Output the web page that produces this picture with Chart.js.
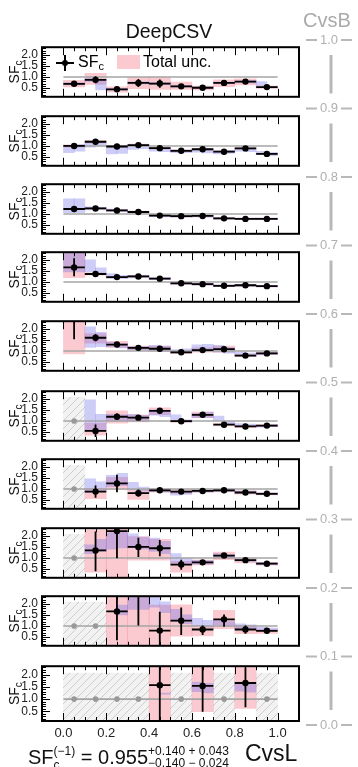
<!DOCTYPE html>
<html><head><meta charset="utf-8">
<script src="https://cdn.jsdelivr.net/npm/chart.js@4.4.1/dist/chart.umd.min.js"></script>
<style>
html,body{margin:0;padding:0;background:#fff;}
body{width:358px;height:767px;overflow:hidden;position:relative;font-family:'Liberation Sans',Arial,sans-serif;}
canvas{position:absolute;}
.t{position:absolute;white-space:nowrap;}
.sc{display:inline-block;position:relative;font-size:12px;line-height:12px;}
.sp{position:relative;top:-9px;}
.sb{position:absolute;left:0;top:3px;}
</style></head><body>
<script>
// ---------------- data ----------------
const CVSL_EDGES = [0.0,0.1,0.2,0.3,0.4,0.5,0.6,0.7,0.8,0.9,1.0];
const SUB_EDGES = [0,0.05,0.1,0.15,0.2,0.25,0.3,0.35,0.4,0.45,0.5,0.55,0.6,0.65,0.7,0.75,0.8,0.85,0.9,0.95,1.0];
const CVSB_TICKS = [0.0,0.1,0.2,0.3,0.4,0.5,0.6,0.7,0.8,0.9,1.0];
const X_LABELS = [0.0,0.2,0.4,0.6,0.8,1.0];
const X_MINOR = [0,0.05,0.1,0.15,0.2,0.25,0.3,0.35,0.4,0.45,0.5,0.55,0.6,0.65,0.7,0.75,0.8,0.85,0.9,0.95,1.0];
const Y_LABELS = [0.5,1.0,1.5,2.0];
const Y_MINOR = [0.2,0.3,0.4,0.5,0.6,0.7,0.8,0.9,1.0,1.1,1.2,1.3,1.4,1.5,1.6,1.7,1.8,1.9,2.0,2.1,2.2,2.3];
const Y_MIN = 0.1, Y_MAX = 2.35;
const REF_VALUE = 1.0;
const HATCH_TOP = 2.07;

// panels from CvsB 0.9-1.0 (top) down to 0.0-0.1 (bottom); null = empty bin
const SF = [
 [0.69,0.87,0.44,0.73,0.70,0.575,0.51,0.73,0.79,0.54],
 [1.00,1.19,0.975,1.04,0.90,0.78,0.85,0.74,0.89,0.64],
 [1.225,1.25,1.16,1.09,0.925,0.90,0.91,0.80,0.775,0.775],
 [1.66,1.36,1.22,1.25,1.15,0.94,0.90,0.825,0.85,0.81],
 [2.55,1.60,1.29,1.14,1.10,0.94,1.04,1.08,0.79,0.89],
 [null,0.55,1.19,1.15,1.46,0.99,1.28,0.83,0.75,0.79],
 [null,0.88,1.25,0.81,0.94,0.88,0.91,0.94,0.84,0.78],
 [null,1.34,2.22,1.50,1.44,0.70,0.80,1.11,0.90,0.74],
 [null,null,1.66,2.55,0.79,1.24,0.84,1.30,0.84,0.78],
 [null,null,null,null,1.57,null,1.54,null,1.66,null]
];
const ERR_UP = [
 [0.10,0.16,0.06,0.18,0.19,0.08,0.05,0.08,0.06,0.04],
 [0.04,0.04,0.04,0.04,0.03,0.03,0.03,0.03,0.03,0.03],
 [0.03,0.03,0.03,0.03,0.03,0.03,0.03,0.03,0.03,0.03],
 [0.41,0.04,0.03,0.03,0.03,0.03,0.03,0.03,0.03,0.03],
 [0.50,0.16,0.05,0.04,0.04,0.03,0.04,0.04,0.03,0.03],
 [null,0.29,0.15,0.05,0.12,0.04,0.06,0.04,0.04,0.04],
 [null,0.28,0.40,0.16,0.04,0.04,0.04,0.03,0.04,0.03],
 [null,0.86,0.50,0.42,0.37,0.22,0.07,0.07,0.05,0.03],
 [null,null,1.00,0.50,0.86,0.60,0.18,0.22,0.18,0.06],
 [null,null,null,null,1.00,null,0.90,null,0.64,null]
];
const ERR_DN = [
 [0.10,0.16,0.06,0.18,0.19,0.08,0.05,0.08,0.06,0.04],
 [0.04,0.04,0.04,0.04,0.03,0.03,0.03,0.03,0.03,0.03],
 [0.03,0.03,0.03,0.03,0.03,0.03,0.03,0.03,0.03,0.03],
 [0.40,0.04,0.03,0.03,0.03,0.03,0.03,0.03,0.03,0.03],
 [1.02,0.16,0.05,0.04,0.04,0.03,0.04,0.04,0.03,0.03],
 [null,0.28,0.13,0.05,0.12,0.04,0.06,0.04,0.04,0.04],
 [null,0.28,0.40,0.16,0.04,0.04,0.04,0.03,0.04,0.03],
 [null,0.94,1.23,0.46,0.36,0.24,0.07,0.07,0.05,0.03],
 [null,null,1.31,1.53,0.90,0.65,0.25,0.34,0.19,0.06],
 [null,null,null,null,1.70,null,1.06,null,1.00,null]
];
const TOT_LO = [
 [0.55,0.66,0.31,0.47,0.44,0.44,0.41,0.56,0.64,0.48],
 [0.95,1.14,0.93,0.99,0.86,0.74,0.81,0.70,0.85,0.60],
 [1.19,1.21,1.12,1.05,0.89,0.86,0.87,0.76,0.74,0.74],
 [1.20,1.31,1.18,1.21,1.11,0.90,0.86,0.79,0.81,0.77],
 [0.87,1.35,1.16,1.06,1.00,0.88,0.94,0.94,0.74,0.83],
 [null,0.36,0.90,0.96,1.28,0.93,1.15,0.78,0.70,0.74],
 [null,0.56,0.97,0.53,0.86,0.80,0.85,0.87,0.76,0.73],
 [null,0.35,0.00,0.90,0.90,0.36,0.68,0.92,0.78,0.67],
 [null,null,0.00,0.00,0.00,0.54,0.55,0.88,0.65,0.66],
 [null,null,null,null,0.00,null,0.48,null,0.62,null]
];
const TOT_HI = [
 [0.85,1.16,0.55,0.99,0.99,0.77,0.59,0.87,0.91,0.60],
 [1.05,1.24,1.02,1.09,0.94,0.82,0.89,0.78,0.93,0.68],
 [1.26,1.29,1.20,1.13,0.96,0.94,0.95,0.84,0.81,0.81],
 [2.40,1.41,1.26,1.29,1.19,0.98,0.94,0.87,0.89,0.85],
 [2.60,1.79,1.44,1.22,1.22,1.00,1.14,1.22,0.85,0.95],
 [null,0.90,1.46,1.28,1.59,1.03,1.40,0.88,0.80,0.84],
 [null,1.02,1.53,0.97,1.03,0.97,0.98,1.00,0.92,0.84],
 [null,2.28,2.60,1.97,1.84,0.85,0.90,1.27,0.99,0.80],
 [null,null,2.60,2.60,1.95,1.96,1.02,1.71,1.02,0.86],
 [null,null,null,null,2.60,null,2.60,null,2.60,null]
];
const BAND_LO = [
 [0.64,0.64,0.80,0.41,0.40,0.40,0.68,0.68,0.65,0.65,0.54,0.54,0.48,0.48,0.69,0.69,0.75,0.72,0.58,0.50],
 [0.70,0.76,0.95,1.00,0.64,0.66,0.84,0.88,0.76,0.74,0.70,0.70,0.72,0.68,0.64,0.66,0.76,0.74,0.60,0.56],
 [1.06,1.06,1.18,1.20,1.12,1.10,1.05,1.03,0.88,0.87,0.86,0.86,0.87,0.86,0.76,0.76,0.74,0.74,0.74,0.74],
 [1.45,1.45,1.45,1.33,1.16,1.16,1.18,1.20,1.10,1.10,0.90,0.90,0.86,0.86,0.79,0.79,0.81,0.81,0.77,0.77],
 [null,null,1.16,1.20,1.18,1.14,1.04,1.04,1.00,0.98,0.90,0.92,0.98,1.00,0.95,0.90,0.80,0.78,0.82,0.84],
 [null,null,0.55,0.55,1.00,1.00,1.00,1.00,1.26,1.20,1.05,0.95,1.15,1.15,1.00,0.85,0.78,0.76,0.72,0.74],
 [null,null,0.84,0.90,1.10,1.15,0.96,0.90,0.88,0.86,0.72,0.75,0.86,0.86,0.88,0.88,0.80,0.80,0.74,0.74],
 [null,null,1.20,1.30,1.40,1.45,1.45,1.40,1.30,1.20,0.75,0.70,0.72,0.72,1.02,1.00,0.85,0.82,0.70,0.70],
 [null,null,null,null,null,1.50,1.75,1.75,1.85,1.60,1.20,1.10,1.00,0.95,1.05,1.00,0.86,0.85,0.80,0.78],
 [null,null,null,null,null,null,null,null,null,1.20,null,null,1.30,1.25,null,null,1.32,1.28,null,null]
];
const BAND_HI = [
 [0.74,0.74,0.95,0.90,0.48,0.48,0.78,0.78,0.75,0.75,0.62,0.62,0.55,0.55,0.77,0.77,0.83,0.85,0.79,0.58],
 [1.03,1.06,1.22,1.20,0.95,0.98,1.05,1.06,0.93,0.91,0.84,0.82,0.87,0.84,0.78,0.80,0.90,0.90,0.76,0.70],
 [1.69,1.69,1.32,1.30,1.22,1.20,1.13,1.12,0.97,0.95,0.94,0.93,0.95,0.94,0.84,0.83,0.81,0.81,0.81,0.81],
 [2.45,2.30,2.00,1.64,1.38,1.30,1.30,1.29,1.20,1.20,0.98,0.98,0.94,0.94,0.87,0.87,0.89,0.89,0.85,0.85],
 [null,null,2.10,1.85,1.40,1.34,1.20,1.20,1.26,1.22,1.06,1.10,1.28,1.30,1.25,1.15,0.96,0.90,0.92,0.95],
 [null,null,1.96,1.30,1.30,1.28,1.30,1.25,1.50,1.45,1.28,1.05,1.35,1.40,1.22,1.00,0.88,0.86,0.80,0.84],
 [null,null,1.46,1.32,1.62,1.71,1.30,1.08,1.00,0.98,0.92,0.90,0.96,0.96,0.98,0.98,0.90,0.90,0.82,0.82],
 [null,null,1.60,1.85,2.15,2.20,2.10,1.95,1.90,1.75,1.20,1.00,0.90,0.88,1.20,1.15,0.95,0.93,0.80,0.78],
 [null,null,null,null,null,1.95,2.40,2.40,2.40,2.10,1.75,1.50,1.35,1.25,1.25,1.20,1.10,1.05,0.95,0.90],
 [null,null,null,null,null,null,null,null,null,1.25,null,null,1.70,1.65,null,null,1.70,1.62,null,null]
];

// ---------------- layout / style ----------------
const FONT = "'Liberation Sans', Arial, Helvetica, sans-serif";
const PANEL_TOP = [42,111,179,247,316,386,454,523,591,661];
const PANEL_H = 60, PAD = 6, AREA_LEFT = 42, AREA_RIGHT = 299, W = 358, XLAB_H = 24;
const PINK = 'rgba(240,80,100,0.30)';
const BLUE = 'rgba(100,100,230,0.32)';
const GREY = '#a4a4a4';

function makeHatch() {
  const c = document.createElement('canvas'); c.width = 8; c.height = 8;
  const g = c.getContext('2d');
  g.fillStyle = '#f2f2f2'; g.fillRect(0,0,8,8);
  g.strokeStyle = '#cdcdcd'; g.lineWidth = 1;
  g.beginPath();
  g.moveTo(0,8); g.lineTo(8,0);
  g.moveTo(-1,1); g.lineTo(1,-1);
  g.moveTo(7,9); g.lineTo(9,7);
  g.stroke();
  return g.createPattern(c,'repeat');
}
const HATCH = makeHatch();

function seg(ctx,x1,y1,x2,y2){ctx.beginPath();ctx.moveTo(x1,y1);ctx.lineTo(x2,y2);ctx.stroke();}

const decoPlugin = {
  id: 'deco',
  afterDatasetsDraw(chart) {
    const p = chart.options.plugins.deco.panel;
    const {ctx, chartArea: a} = chart;
    const x = chart.scales.x, y = chart.scales.y;
    ctx.save();
    ctx.strokeStyle = '#000'; ctx.lineWidth = 1;
    X_MINOR.forEach(v => {
      const px = Math.round(x.getPixelForValue(v)) + 0.5;
      const L = X_LABELS.some(m => Math.abs(m - v) < 1e-9) ? 8 : 4;
      seg(ctx, px, a.bottom, px, a.bottom - L);
      seg(ctx, px, a.top, px, a.top + L);
    });
    Y_MINOR.forEach(v => {
      const py = Math.round(y.getPixelForValue(v)) + 0.5;
      const L = Y_LABELS.some(m => Math.abs(m - v) < 1e-9) ? 8 : 4;
      seg(ctx, a.left, py, a.left + L, py);
    });
    ctx.lineWidth = 2;
    ctx.strokeRect(a.left, a.top, a.right - a.left, a.bottom - a.top);
    // x tick labels on the bottom panel
    if (p === PANEL_TOP.length - 1) {
      ctx.fillStyle = '#222';
      ctx.font = '13px ' + FONT;
      ctx.textAlign = 'center'; ctx.textBaseline = 'middle';
      X_LABELS.forEach(v => ctx.fillText(v.toFixed(1), x.getPixelForValue(v), a.bottom + 12));
      ctx.textAlign = 'left'; ctx.textBaseline = 'alphabetic';
    }
    // y title SF_c
    ctx.save();
    ctx.translate(19, (a.top + a.bottom) / 2);
    ctx.rotate(-Math.PI / 2);
    ctx.fillStyle = '#111';
    ctx.font = '14px ' + FONT;
    const w1 = ctx.measureText('SF').width;
    ctx.font = '10px ' + FONT;
    const w2 = ctx.measureText('c').width;
    const x0 = -(w1 + w2) / 2;
    ctx.font = '14px ' + FONT; ctx.fillText('SF', x0, 0);
    ctx.font = '10px ' + FONT; ctx.fillText('c', x0 + w1, 2.5);
    ctx.restore();
    if (p === 0) {
      const top = PANEL_TOP[0] - PAD;
      ctx.strokeStyle = '#000'; ctx.lineWidth = 2;
      seg(ctx, 56, 63 - top, 74, 63 - top);
      seg(ctx, 65, 55 - top, 65, 71 - top);
      ctx.fillStyle = '#000';
      ctx.beginPath(); ctx.arc(65, 63 - top, 3, 0, Math.PI * 2); ctx.fill();
      ctx.font = '16px ' + FONT;
      ctx.fillText('SF', 78, 67 - top);
      const ws = ctx.measureText('SF').width;
      ctx.font = '11px ' + FONT;
      ctx.fillText('c', 78 + ws, 70 - top);
      ctx.fillStyle = PINK;
      ctx.fillRect(117, 55 - top, 23, 14);
      ctx.fillStyle = '#000';
      ctx.font = '16px ' + FONT;
      ctx.fillText('Total unc.', 143, 67 - top);
    }
    ctx.restore();
  }
};

function makePanel(p) {
  const last = p === PANEL_TOP.length - 1;
  const cv = document.createElement('canvas');
  const padBottom = last ? XLAB_H : PAD;
  cv.width = W; cv.height = PANEL_H + PAD + padBottom;
  cv.style.left = '0px'; cv.style.top = (PANEL_TOP[p] - PAD) + 'px';
  document.body.appendChild(cv);

  const bins = [...Array(10).keys()];
  const centre = i => (CVSL_EDGES[i] + CVSL_EDGES[i + 1]) / 2;
  const empty = bins.filter(i => SF[p][i] === null);
  const full = bins.filter(i => SF[p][i] !== null);
  const subs = [...Array(20).keys()].filter(k => BAND_LO[p][k] !== null);

  const datasets = [];
  if (empty.length) datasets.push({
    type: 'bar', order: 7, xAxisID: 'x', yAxisID: 'y',
    data: empty.map(i => ({x: centre(i), y: [Y_MIN, HATCH_TOP]})),
    backgroundColor: HATCH, borderWidth: 0, grouped: false, barPercentage: 1, categoryPercentage: 1
  });
  datasets.push({
    type: 'bar', order: 6, xAxisID: 'x', yAxisID: 'y',
    data: full.map(i => ({x: centre(i), y: [TOT_LO[p][i], TOT_HI[p][i]]})),
    backgroundColor: PINK, borderWidth: 0, grouped: false, barPercentage: 1, categoryPercentage: 1
  });
  datasets.push({
    type: 'bar', order: 5, xAxisID: 'xb', yAxisID: 'y',
    data: subs.map(k => ({x: (SUB_EDGES[k] + SUB_EDGES[k + 1]) / 2, y: [BAND_LO[p][k], BAND_HI[p][k]]})),
    backgroundColor: BLUE, borderWidth: 0, grouped: false, barPercentage: 1, categoryPercentage: 1
  });
  datasets.push({
    type: 'line', order: 4, xAxisID: 'x', yAxisID: 'y',
    data: [{x: CVSL_EDGES[0], y: REF_VALUE}, {x: CVSL_EDGES[10], y: REF_VALUE}],
    borderColor: GREY, borderWidth: 1.6, pointRadius: 0
  });
  if (empty.length) datasets.push({
    type: 'line', order: 3, xAxisID: 'x', yAxisID: 'y', showLine: false,
    data: empty.map(i => ({x: centre(i), y: REF_VALUE})),
    pointRadius: 2.8, pointBackgroundColor: '#999', pointBorderWidth: 0
  });
  datasets.push({
    type: 'line', order: 2, xAxisID: 'x', yAxisID: 'y', spanGaps: false,
    data: full.flatMap(i => [{x: centre(i), y: SF[p][i] - ERR_DN[p][i]}, {x: centre(i), y: SF[p][i] + ERR_UP[p][i]}, {x: centre(i), y: null}]),
    borderColor: '#000', borderWidth: 1.8, pointRadius: 0
  });
  datasets.push({
    type: 'line', order: 1, xAxisID: 'x', yAxisID: 'y', spanGaps: false,
    data: full.flatMap(i => [{x: CVSL_EDGES[i], y: SF[p][i]}, {x: CVSL_EDGES[i + 1], y: SF[p][i]}, {x: centre(i), y: null}]),
    borderColor: '#000', borderWidth: 1.8, pointRadius: 0
  });
  datasets.push({
    type: 'line', order: 0, xAxisID: 'x', yAxisID: 'y', showLine: false,
    data: full.map(i => ({x: centre(i), y: SF[p][i]})),
    pointRadius: 3.2, pointBackgroundColor: '#000', pointBorderWidth: 0
  });

  new Chart(cv, {
    type: 'bar',
    data: {datasets},
    options: {
      responsive: false, animation: false, events: [],
      layout: {padding: {left: 0, right: W - AREA_RIGHT, top: PAD, bottom: padBottom}},
      plugins: {legend: {display: false}, tooltip: {enabled: false}, deco: {panel: p}},
      scales: {
        x: {type: 'linear', min: 0, max: 1, display: false,
            afterBuildTicks: s => { s.ticks = X_LABELS.map(v => ({value: v})); }},
        xb: {type: 'linear', axis: 'x', min: 0, max: 1, display: false},
        y: {
          type: 'linear', min: Y_MIN, max: Y_MAX, position: 'left',
          afterBuildTicks: s => { s.ticks = Y_LABELS.map(v => ({value: v})); },
          afterFit: s => { s.width = AREA_LEFT; },
          grid: {display: false, drawTicks: false}, border: {display: false},
          ticks: {autoSkip: false, padding: 4, color: '#222',
                  font: {family: FONT, size: 12}, callback: v => v.toFixed(1)}
        }
      }
    },
    plugins: [decoPlugin]
  });
}
for (let p = 0; p < PANEL_TOP.length; p++) makePanel(p);

// ---------------- CvsB axis ----------------
const CVB_LEFT = 290, CVB_CX = 39;
const cvsbPlugin = {
  id: 'cvsb',
  afterDraw(chart) {
    const {ctx} = chart; const y = chart.scales.y;
    ctx.save();
    ctx.fillStyle = '#b0b0b0'; ctx.strokeStyle = '#b8b8b8';
    ctx.font = '13px ' + FONT; ctx.textAlign = 'center'; ctx.textBaseline = 'middle';
    CVSB_TICKS.forEach((v, i) => {
      const py = y.getPixelForValue(v);
      ctx.fillText(v.toFixed(1), CVB_CX, py);
      ctx.lineWidth = 2;
      seg(ctx, CVB_CX - 23, py, CVB_CX - 12, py);
      seg(ctx, CVB_CX + 12, py, CVB_CX + 23, py);
      if (i < CVSB_TICKS.length - 1) {
        const py2 = y.getPixelForValue(CVSB_TICKS[i + 1]);
        ctx.lineWidth = 3;
        seg(ctx, CVB_CX + 2, py - 15, CVB_CX + 2, py2 + 15);
      }
    });
    ctx.restore();
  }
};
const cvb = document.createElement('canvas');
cvb.width = W - CVB_LEFT; cvb.height = 767;
cvb.style.left = CVB_LEFT + 'px'; cvb.style.top = '0px';
document.body.appendChild(cvb);
new Chart(cvb, {
  type: 'line', data: {datasets: []},
  options: {
    responsive: false, animation: false, events: [],
    layout: {padding: {top: 40, bottom: 42, left: 0, right: 0}},
    plugins: {legend: {display: false}, tooltip: {enabled: false}},
    scales: {x: {type: 'linear', min: 0, max: 1, display: false},
             y: {type: 'linear', min: 0, max: 1, display: false}}
  },
  plugins: [cvsbPlugin]
});

// ---------------- text ----------------
function txt(html, left, baseline, size, color, center) {
  const d = document.createElement('div');
  d.className = 't';
  d.innerHTML = html;
  d.style.left = left + 'px';
  d.style.top = (baseline - 0.8465 * size) + 'px';
  d.style.fontSize = size + 'px';
  d.style.lineHeight = size + 'px';
  d.style.color = color;
  if (center) d.style.transform = 'translateX(-50%)';
  document.body.appendChild(d);
}
txt('DeepCSV', 169, 39, 19.5, '#111', true);
txt('CvsB', 327, 27, 20, '#aaa', true);
txt('CvsL', 245, 761, 23, '#111', false);
txt('SF<span class="sc"><span class="sp">(\u22121)</span><span class="sb" style="top:5px">c</span></span> = 0.955<span class="sc"><span class="sp">+0.140 + 0.043</span><span class="sb">\u22120.140 \u2212 0.024</span></span>', 28, 764, 20, '#111', false);
</script>
</body></html>
